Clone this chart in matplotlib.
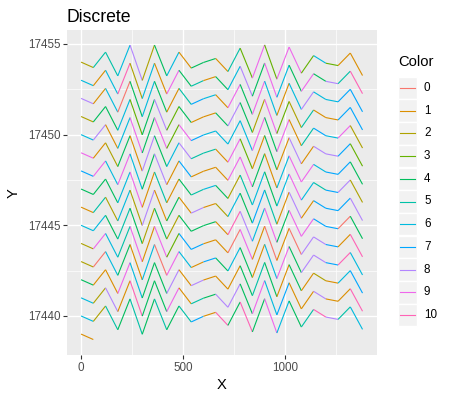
import numpy as np
import matplotlib
matplotlib.use("Agg")
import matplotlib.pyplot as plt
from matplotlib.collections import LineCollection
from matplotlib.patches import Rectangle

plt.rcParams['font.family'] = ['Liberation Sans', 'DejaVu Sans']

# Data: x is minute of day, one path per day, same hourly profile each day
minutes = [0, 60, 120, 180, 240, 300, 360, 420, 480, 540, 600, 660,
           720, 780, 840, 900, 960, 1020, 1080, 1140, 1200, 1260, 1320, 1380]
profile = [0.00, -0.30, 0.55, -0.76, 0.94, -1.01, 0.94, -0.76, 0.55, -0.33, -0.02, 0.20,
           -0.52, 0.77, -0.88, 0.95, -0.94, 0.83, -0.61, 0.36, -0.06, -0.19, 0.50, -0.74]
days = [17454, 17453, 17452, 17451, 17450, 17449, 17448, 17447,
        17446, 17445, 17444, 17443, 17442, 17441, 17440, 17439]
n_points = [24] * 15 + [2]

# Colour class of each segment (row per day)
seg_color = [
    [2, 5, 5, 6, 8, 2, 4, 6, 1, 4, 4, 1, 5, 3, 9, 3, 9, 9, 3, 6, 3, 1, 1],
    [6, 1, 6, 10, 2, 6, 1, 9, 4, 5, 1, 4, 6, 8, 4, 9, 6, 4, 9, 4, 8, 5, 10],
    [8, 1, 6, 0, 4, 6, 4, 1, 5, 7, 6, 1, 9, 4, 9, 6, 1, 6, 8, 6, 6, 7, 7],
    [2, 4, 4, 6, 3, 4, 8, 3, 4, 1, 1, 4, 8, 4, 2, 9, 3, 2, 5, 1, 1, 7, 7],
    [6, 8, 1, 6, 9, 4, 9, 3, 9, 7, 6, 6, 6, 6, 9, 4, 9, 1, 5, 7, 6, 9, 2],
    [9, 1, 2, 4, 1, 8, 4, 6, 8, 5, 5, 1, 9, 3, 1, 4, 1, 8, 1, 8, 8, 7, 3],
    [7, 9, 6, 9, 6, 4, 8, 1, 7, 1, 1, 1, 9, 9, 4, 1, 6, 9, 9, 6, 7, 7, 4],
    [4, 4, 4, 6, 9, 1, 5, 1, 4, 5, 6, 4, 2, 5, 6, 4, 6, 9, 6, 5, 7, 8, 2],
    [1, 5, 2, 6, 2, 8, 1, 4, 1, 8, 1, 2, 6, 4, 7, 5, 1, 8, 1, 7, 7, 7, 8],
    [6, 6, 4, 5, 4, 2, 4, 2, 4, 4, 4, 1, 10, 8, 6, 9, 4, 9, 9, 7, 7, 0, 4],
    [2, 9, 6, 5, 9, 1, 9, 3, 7, 7, 1, 1, 0, 9, 1, 0, 1, 0, 8, 8, 7, 1, 10],
    [2, 0, 6, 4, 1, 6, 0, 9, 6, 1, 7, 4, 6, 4, 1, 6, 9, 4, 8, 8, 7, 10, 6],
    [4, 1, 1, 9, 6, 4, 4, 8, 1, 8, 1, 1, 1, 4, 5, 4, 1, 4, 1, 2, 1, 6, 7],
    [6, 2, 8, 1, 10, 4, 4, 9, 1, 5, 4, 8, 8, 4, 9, 6, 7, 1, 1, 8, 1, 1, 10],
    [6, 2, 5, 4, 5, 4, 5, 4, 5, 7, 1, 10, 4, 10, 4, 9, 6, 4, 5, 10, 8, 5, 6],
    [1],
]

levels = [str(i) for i in range(11)]
palette = ["#F8766D", "#DB8E00", "#AEA200", "#64B200", "#00BD5C", "#00C1A7",
           "#00BADE", "#00A6FF", "#B385FF", "#EF67EB", "#FF63B6"]

fig = plt.figure(figsize=(4.54, 3.98), dpi=100)
ax = fig.add_axes([67 / 454, 1 - 355.3 / 398, (376.6 - 67) / 454, (355.3 - 30.2) / 398])
ax.set_facecolor("#EBEBEB")

segments = []
colors = []
for d, n, cl in zip(days, n_points, seg_color):
    xs = np.array(minutes[:n])
    ys = d + np.array(profile[:n])
    for i in range(n - 1):
        segments.append([(xs[i], ys[i]), (xs[i + 1], ys[i + 1])])
        colors.append(palette[cl[i]])
lc = LineCollection(segments, colors=colors, linewidths=0.8, capstyle="butt")
ax.add_collection(lc)

ax.set_xlim(-69, 1449)
ax.set_ylim(17437.83, 17455.76)
ax.set_xticks([0, 500, 1000])
ax.set_xticks([250, 750, 1250], minor=True)
ax.set_yticks([17440, 17445, 17450, 17455])
ax.set_yticks([17442.5, 17447.5, 17452.5], minor=True)
ax.grid(which="major", color="white", linewidth=1.0)
ax.grid(which="minor", color="white", linewidth=0.5)
ax.set_axisbelow(True)
for s in ax.spines.values():
    s.set_visible(False)
ax.tick_params(which="major", length=2.7, width=0.8, color="#333333",
               labelsize=8.4, labelcolor="#4D4D4D", pad=2)
ax.tick_params(which="minor", length=0)
ax.set_xlabel("X", fontsize=10.6, labelpad=3)
ax.set_ylabel("Y", fontsize=10.6, labelpad=5)
ax.set_title("Discrete", fontsize=12.7, loc="left", pad=6)

# Legend drawn in pixel coordinates
lg = fig.add_axes([0, 0, 1, 1], facecolor="none")
lg.set_xlim(0, 454)
lg.set_ylim(398, 0)
lg.axis("off")
lg.text(398, 62, "Color", fontsize=10.6, va="center", ha="left")
for i, (lab, col) in enumerate(zip(levels, palette)):
    yc = 88 + 22.7 * i
    lg.add_patch(Rectangle((398, yc - 11.3), 19, 22.6, facecolor="#F2F2F2",
                           edgecolor="white", linewidth=1))
    lg.plot([400, 415], [yc, yc], color=col, linewidth=0.8)
    lg.text(424, yc, lab, fontsize=8.4, va="center", ha="left", color="black")

fig.savefig("out.png", dpi=100)
